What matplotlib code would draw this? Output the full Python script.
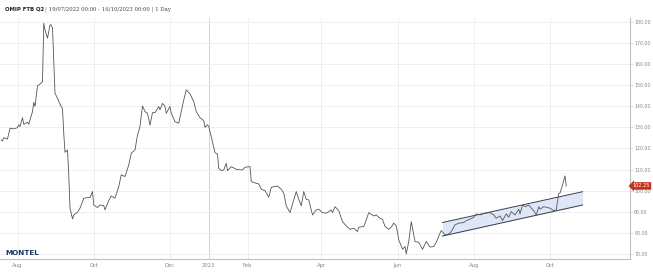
import matplotlib
matplotlib.use("Agg")
import matplotlib.pyplot as plt
import matplotlib.transforms as mtransforms
import pandas as pd

start = pd.Timestamp("2022-07-19")

# days since start / price (EUR/MWh)
days = [0, 1, 2, 5, 7, 10, 13, 14, 15, 17, 18, 21, 22, 25, 26, 27, 29, 31, 33,
        34, 35, 37, 39, 40, 41, 43, 45, 47, 49, 50, 51, 53, 54, 55, 57, 58, 61,
        63, 66, 69, 71, 73, 74, 77, 79, 82, 83, 86, 88, 91, 94, 96, 99, 102,
        104, 107, 109, 111, 113, 115, 117, 119, 121, 123, 126, 127, 129, 131,
        132, 135, 136, 139, 142, 144, 146, 148, 151, 154, 156, 159, 162, 163,
        165, 166, 168, 171, 173, 174, 176, 178, 180, 181, 184, 188, 193, 195,
        199, 200, 204, 206, 208, 211, 214, 216, 218, 221, 224, 226, 228, 231,
        234, 236, 238, 240, 242, 244, 246, 249, 252, 254, 257, 260, 264, 265,
        267, 270, 273, 276, 279, 282, 285, 286, 290, 292, 294, 298, 300, 303,
        305, 307, 310, 312, 314, 316, 318, 321, 323, 324, 326, 328, 331, 334,
        337, 340, 343, 346, 348, 350, 352, 355, 358, 360, 363, 366, 370, 372,
        375, 378, 380, 383, 387, 391, 394, 396, 399, 401, 404, 406, 408, 411,
        414, 415, 417, 419, 422, 424, 426, 428, 430, 431, 434, 436, 439, 442,
        444, 446, 447, 449, 451, 452]
price = [124.1, 123.6, 125.1, 124.5, 129.6, 129.3, 129.9, 131.2, 130.4, 134.6,
         131.5, 132.4, 131.5, 137.5, 141.9, 139.9, 149.8, 150.5, 151.7,
         179.4, 176.2, 172.3, 178.6, 178.6, 177.0, 146.2, 143.8, 141.0, 138.8,
         127.2, 118.2, 119.3, 107.5, 91.7, 86.6, 88.5, 89.8,
         91.7, 96.4, 96.7, 96.7, 99.6, 93.2, 92.0, 93.2, 92.9, 90.9, 95.3, 97.5,
         96.4, 101.9, 107.5, 106.7, 112.2,
         117.8, 119.3, 126.4, 130.4, 140.2, 137.5, 136.7, 131.1, 137.0, 137.0,
         139.9, 138.3, 141.4, 139.9,
         136.7, 139.9, 136.7, 132.7, 132.0, 137.5, 143.0, 147.8, 145.9, 142.2,
         137.5, 134.6, 133.2, 130.0,
         131.2, 130.4, 125.6, 118.0, 117.4, 110.6, 109.5, 109.8, 113.0, 109.5,
         111.4, 110.1, 109.8, 111.1,
         111.4, 104.3, 103.5, 103.2, 100.7, 100.0, 96.9, 101.6, 101.9, 102.2,
         100.7, 98.8, 92.8, 89.6,
         95.6, 99.6, 95.9, 92.8, 99.6, 95.9, 95.6, 88.5, 90.9, 91.2, 89.6, 89.3,
         90.9, 89.6,
         92.4, 90.5, 85.3, 83.3, 81.7, 82.2, 80.6, 82.7, 83.0, 86.1, 89.6, 88.0,
         88.5, 86.9,
         86.4, 83.0, 81.7, 82.7, 84.6, 83.3, 76.7, 72.2, 73.5, 70.0, 75.9, 85.3,
         75.9, 75.5,
         72.2, 75.9, 73.3, 73.5, 75.5, 78.5, 81.1, 79.0, 79.5, 80.6, 83.8, 84.6,
         84.9, 85.8,
         86.5, 87.4, 89.0, 88.5, 89.3, 89.6, 88.5, 86.9, 88.0, 85.8, 89.0, 87.4,
         90.1, 88.5,
         91.2, 89.0, 93.2, 92.4, 93.2, 91.7, 90.5, 88.5, 92.4, 91.2, 92.4, 92.1,
         91.7, 90.5,
         90.9, 98.8, 98.8, 102.7, 107.0, 102.25]

# trend channel drawn on the chart
chan_days = [353, 465]
chan_upper = [84.9, 99.5]
chan_lower = [78.5, 93.2]

tick_dates = ["2022-08-01", "2022-10-01", "2022-12-01", "2023-01-01", "2023-02-01",
              "2023-04-01", "2023-06-01", "2023-08-01", "2023-10-01"]
tick_labels = ["Aug", "Oct", "Dec", "2023", "Feb", "Apr", "Jun", "Aug", "Oct"]
y_ticks = [70, 80, 90, 100, 110, 120, 130, 140, 150, 160, 170, 180]

dates = start + pd.to_timedelta(days, unit="D")
cdates = start + pd.to_timedelta(chan_days, unit="D")
tdates = pd.to_datetime(tick_dates)

fig = plt.figure(figsize=(6.53, 2.79), dpi=100)
ax = fig.add_axes([0.0, 0.0717, 0.9648, 0.864])

grid_c = "#efefef"
for t in tdates:
    col = "#d2d2d2" if t.month == 1 else grid_c
    ax.axvline(t, color=col, lw=0.7, zorder=0)
for v in y_ticks:
    ax.axhline(v, color=grid_c, lw=0.7, zorder=0)

ax.fill_between(cdates, chan_lower, chan_upper, color="#dde7f8", zorder=1, lw=0)
ax.plot(cdates, chan_upper, color="#3a3a4a", lw=0.7, zorder=2)
ax.plot(cdates, chan_lower, color="#3a3a4a", lw=0.7, zorder=2)

ax.plot(dates, price, color="#555555", lw=0.6, zorder=3)

ax.set_xlim(start - pd.Timedelta(days=1), start + pd.Timedelta(days=503))
ax.set_ylim(67.6, 181.9)

ax.set_xticks(tdates)
ax.set_xticklabels(tick_labels)
ax.yaxis.tick_right()
ax.set_yticks(y_ticks)
ax.set_yticklabels([f"{v:.2f}" for v in y_ticks])
ax.tick_params(axis="x", length=0, labelsize=3.8, labelcolor="#888888", pad=3)
ax.tick_params(axis="y", length=2, color="#dddddd", labelsize=3.4,
               labelcolor="#888888", pad=1)

for s in ["top", "left"]:
    ax.spines[s].set_visible(False)
ax.spines["right"].set_color("#c0c0c0")
ax.spines["bottom"].set_color("#c0c0c0")
ax.spines["right"].set_linewidth(0.8)
ax.spines["bottom"].set_linewidth(0.8)

# last price tag
trans = mtransforms.blended_transform_factory(ax.transAxes, ax.transData)
ax.text(1.004, price[-1], f"{price[-1]:.2f}", transform=trans, fontsize=3.6,
        color="white", va="center", ha="left",
        bbox=dict(boxstyle="larrow,pad=0.25", fc="#c4321c", ec="none"))

fig.text(0.008, 0.975, "OMIP FTB Q2", fontsize=3.9, fontweight="bold",
         color="#222222", va="top")
fig.text(0.069, 0.975, "| 19/07/2022 00:00 - 16/10/2023 00:00 | 1 Day",
         fontsize=3.9, family="DejaVu Serif", color="#444444", va="top")
fig.text(0.008, 0.083, "MONTEL", fontsize=5.2, fontweight="bold",
         color="#1d3566", va="bottom")

fig.savefig("out.png", dpi=100)
